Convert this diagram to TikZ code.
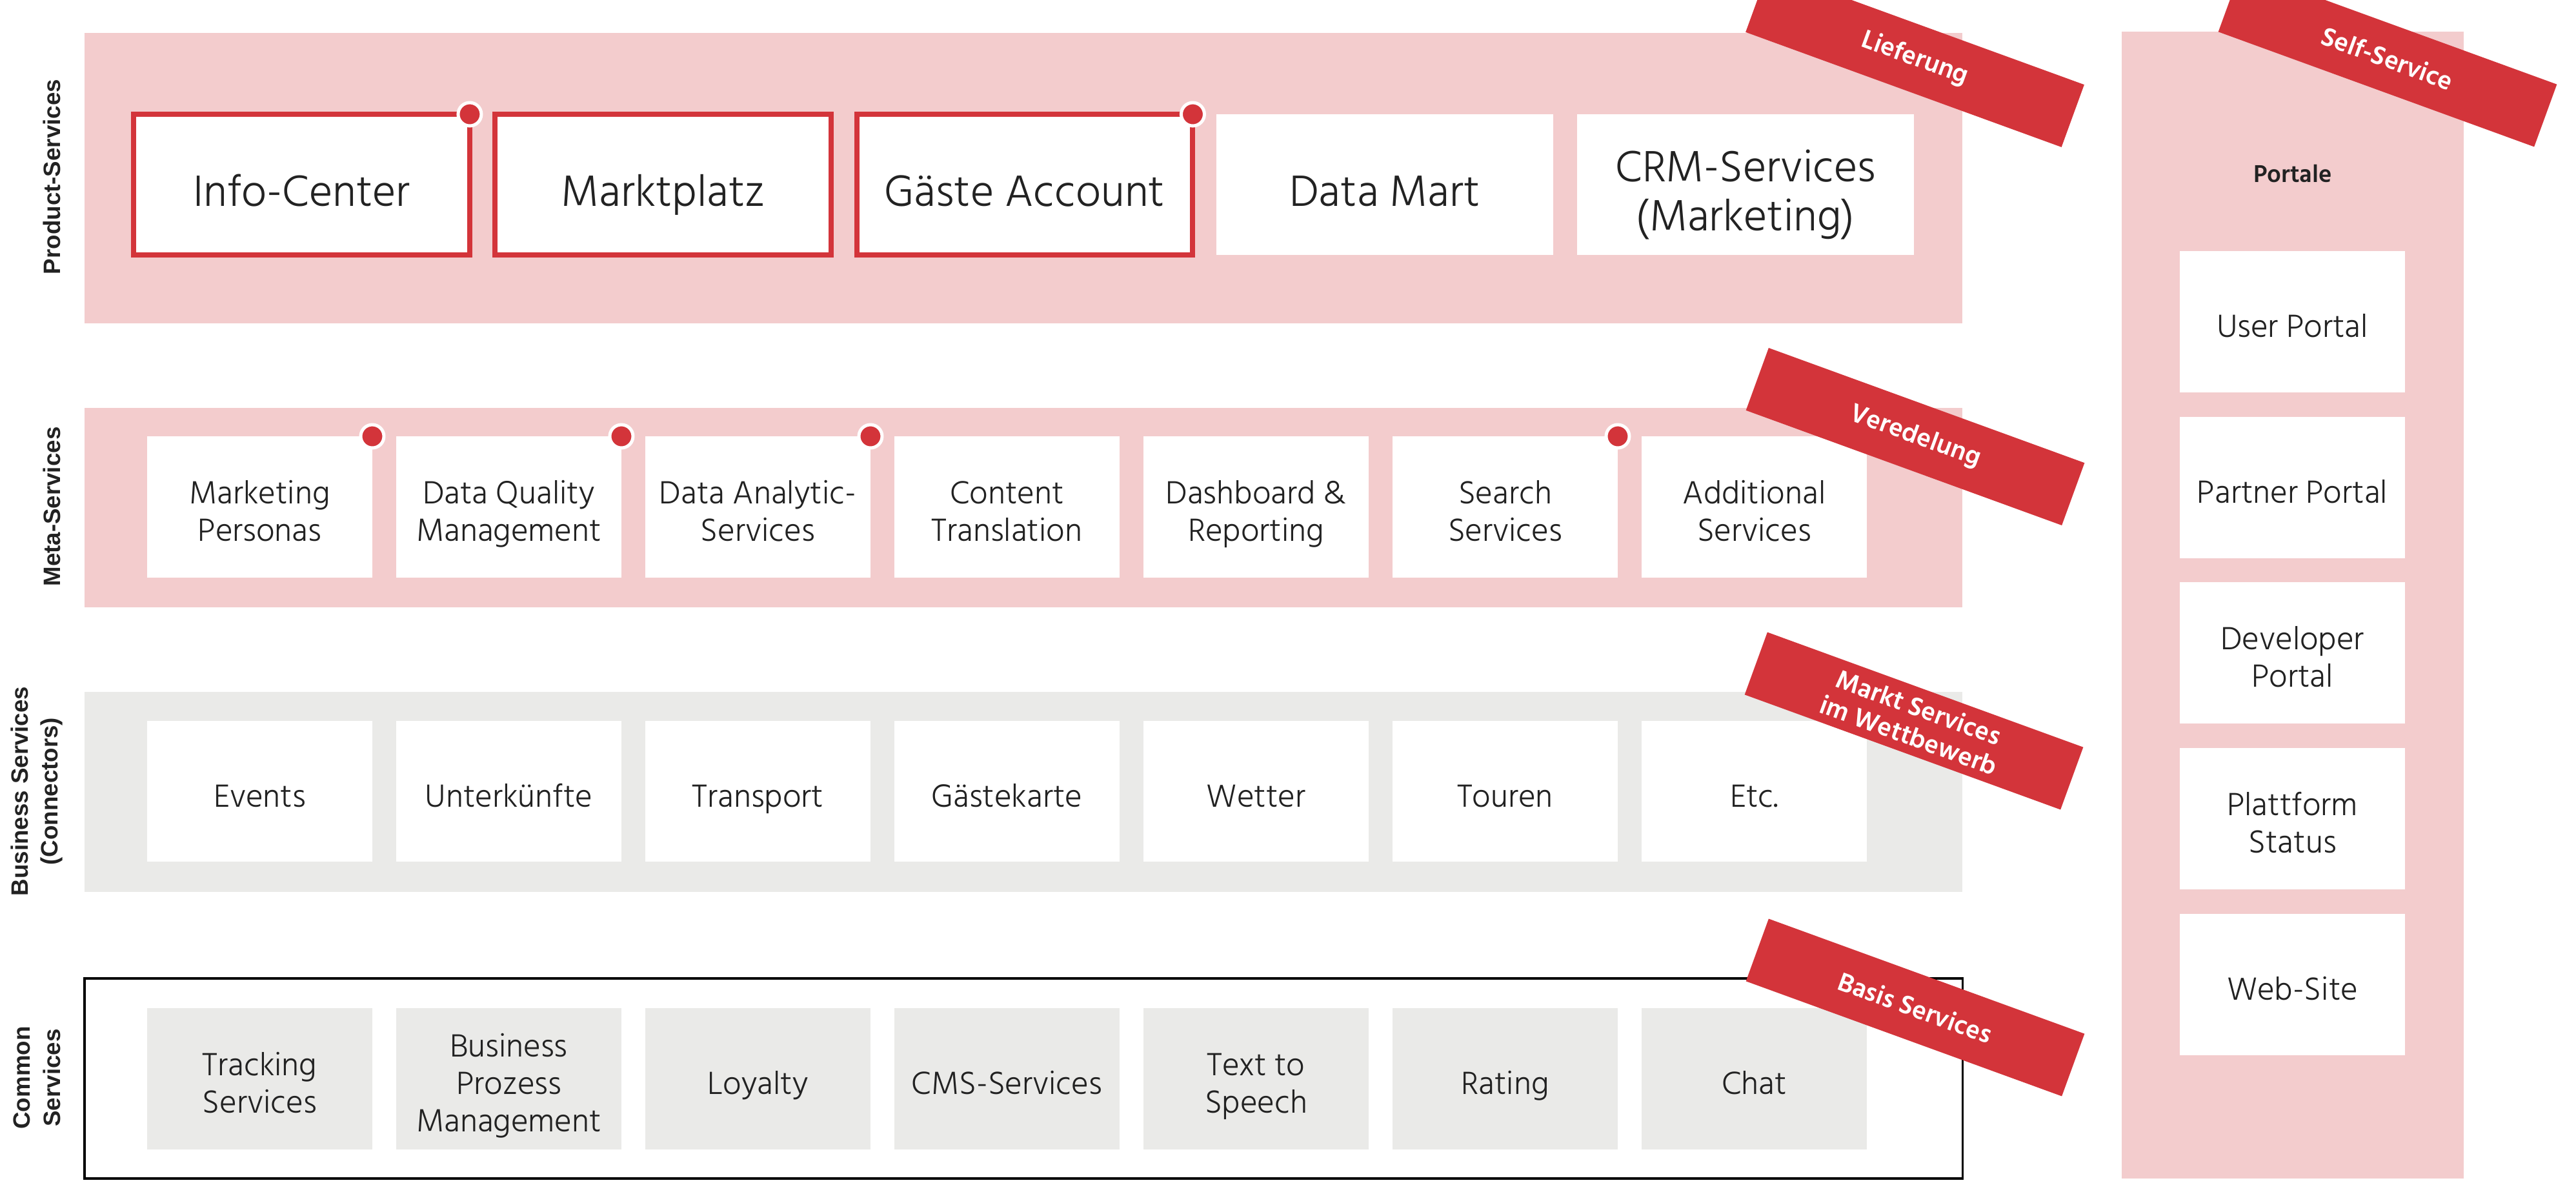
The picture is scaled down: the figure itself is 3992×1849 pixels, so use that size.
\documentclass[tikz,border=0pt]{standalone}
\usepackage{fontspec}
\setmainfont{Hind Madurai}[UprightFont=* Light,BoldFont=* SemiBold]
\newfontfamily\labelfont{Liberation Sans}[UprightFont=* Bold]
\newfontfamily\ribbonfont{Hind Madurai}[UprightFont=* SemiBold]
\definecolor{pinkband}{HTML}{F3CCCD}
\definecolor{redmark}{HTML}{D3343A}
\definecolor{grayband}{HTML}{EAEAE8}
\definecolor{inktext}{HTML}{222222}
\newcommand\ct[1]{\leavevmode\vrule width 0pt height 1.26em depth 0pt\relax #1\vrule width 0pt height 0pt depth 0.3em\relax}
\tikzset{
  x=0.02cm,y=-0.02cm,
  band/.style={anchor=north west,inner sep=0pt,outer sep=0pt,minimum width=58.22cm},
  cardtext/.style={text=inktext,align=center,inner sep=0pt,outer sep=0pt},
  card/.style={cardtext,font=\fontsize{29}{33}\selectfont,minimum width=6.98cm,minimum height=4.38cm},
  whitecard/.style={card,fill=white},
  graycard/.style={card,fill=grayband},
  bigcard/.style={cardtext,font=\fontsize{39.6}{43.3}\selectfont,fill=white,minimum height=4.38cm,minimum width=10.44cm},
  redcard/.style={bigcard,draw=redmark,line width=0.16cm,minimum width=10.42cm,minimum height=4.36cm},
  ribbon/.style={fill=redmark,rotate=-20,minimum width=10.42cm,minimum height=2.06cm,inner sep=0pt,outer sep=0pt,text=white,align=center,font=\ribbonfont\fontsize{23.5}{26}\selectfont},
  sidelabel/.style={rotate=90,align=center,inner sep=0pt,text=inktext,font=\labelfont\fontsize{20.9}{26.7}\selectfont},
  pin/.style={circle,fill=redmark,draw=white,line width=0.1cm,minimum size=0.72cm,inner sep=0pt,outer sep=0pt},
}
\begin{document}
\begin{tikzpicture}
\clip (0,0) rectangle (3992,1849);
\node[band,fill=pinkband,minimum height=9cm] (product) at (131,51) {};
\node[band,fill=pinkband,minimum height=6.18cm] (meta) at (131,632) {};
\node[band,fill=grayband,minimum height=6.2cm] (business) at (131,1072) {};
\node[band,draw=black,line width=0.07cm,minimum height=6.2cm] (common) at (131,1516) {};
\node[anchor=north west,inner sep=0pt,fill=pinkband,minimum width=10.6cm,minimum height=35.54cm] (portalband) at (3288,49) {};

\node[sidelabel] (lproduct) at (80,274) {Product-Services};
\node[sidelabel] (lmeta) at (80,785) {Meta-Services};
\node[sidelabel] (lbusiness) at (57,1226) {Business Services\\(Connectors)};
\node[sidelabel] (lcommon) at (57,1670) {Common\\Services};

\node[redcard] (p1) at (467.5,286) {\ct{Info-Center}};
\node[redcard] (p2) at (1027.5,286) {\ct{Marktplatz}};
\node[redcard] (p3) at (1588,286) {\ct{Gäste Account}};
\node[bigcard] (p4) at (2146,286) {\ct{Data Mart}};
\node[bigcard] (p5) at (2705,286) {\ct{CRM-Services\\(Marketing)}};

\node[whitecard] (m1) at (402.5,785.5) {\ct{Marketing\\Personas}};
\node[whitecard] (m2) at (788.5,785.5) {\ct{Data Quality\\Management}};
\node[whitecard] (m3) at (1174.5,785.5) {\ct{Data Analytic-\\Services}};
\node[whitecard] (m4) at (1560.5,785.5) {\ct{Content\\Translation}};
\node[whitecard] (m5) at (1946.5,785.5) {\ct{Dashboard \&\\Reporting}};
\node[whitecard] (m6) at (2332.5,785.5) {\ct{Search\\Services}};
\node[whitecard] (m7) at (2718.5,785.5) {\ct{Additional\\Services}};

\node[whitecard] (b1) at (402.5,1226) {\ct{Events}};
\node[whitecard] (b2) at (788.5,1226) {\ct{Unterkünfte}};
\node[whitecard] (b3) at (1174.5,1226) {\ct{Transport}};
\node[whitecard] (b4) at (1560.5,1226) {\ct{Gästekarte}};
\node[whitecard] (b5) at (1946.5,1226) {\ct{Wetter}};
\node[whitecard] (b6) at (2332.5,1226) {\ct{Touren}};
\node[whitecard] (b7) at (2718.5,1226) {\ct{Etc.}};

\node[graycard] (c1) at (402.5,1671) {\ct{Tracking\\Services}};
\node[graycard] (c2) at (788.5,1671) {\ct{Business\\Prozess\\Management}};
\node[graycard] (c3) at (1174.5,1671) {\ct{Loyalty}};
\node[graycard] (c4) at (1560.5,1671) {\ct{CMS-Services}};
\node[graycard] (c5) at (1946.5,1671) {\ct{Text to\\Speech}};
\node[graycard] (c6) at (2332.5,1671) {\ct{Rating}};
\node[graycard] (c7) at (2718.5,1671) {\ct{Chat}};

\node[font=\bfseries\fontsize{22}{25}\selectfont,text=inktext,inner sep=0pt] (portale) at (3553,269) {Portale};
\node[whitecard] (s1) at (3552.5,498.5) {\ct{User Portal}};
\node[whitecard] (s2) at (3552.5,755.5) {\ct{Partner Portal}};
\node[whitecard] (s3) at (3552.5,1011.5) {\ct{Developer\\Portal}};
\node[whitecard] (s4) at (3552.5,1268.5) {\ct{Plattform\\Status}};
\node[whitecard] (s5) at (3552.5,1525.5) {\ct{Web-Site}};

\node[ribbon] (r1) at (2967.5,90.5) {Lieferung};
\node[ribbon] (r2) at (3700,90) {Self-Service};
\node[ribbon] (r3) at (2968,676.5) {Veredelung};
\node[ribbon] (r4) at (2966,1117) {Markt Services\\im Wettbewerb};
\node[ribbon] (r5) at (2968,1561) {Basis Services};

\node[pin] (d1) at (p1.north east) {};
\node[pin] (d2) at (p3.north east) {};
\node[pin] (d3) at (m1.north east) {};
\node[pin] (d4) at (m2.north east) {};
\node[pin] (d5) at (m3.north east) {};
\node[pin] (d6) at (m6.north east) {};
\end{tikzpicture}
\end{document}
